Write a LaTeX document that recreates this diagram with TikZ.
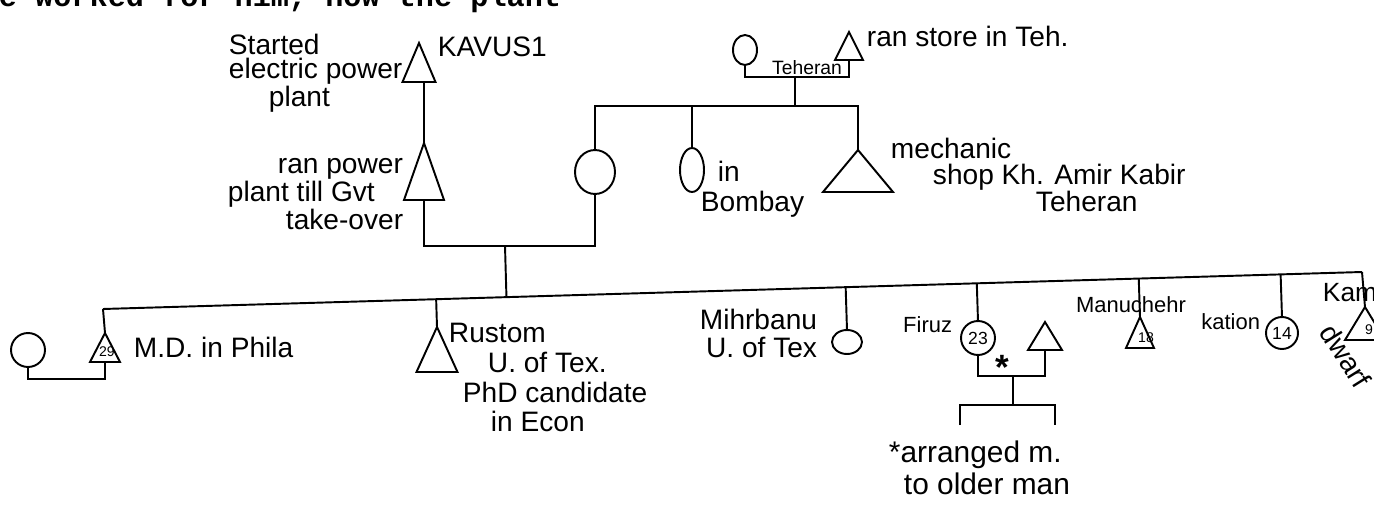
\documentclass[tikz,border=0pt]{standalone}
\usepackage{fontspec}
\setmainfont{Liberation Sans}
\newfontfamily\typed{Liberation Mono}
\usetikzlibrary{shapes.geometric,positioning,calc}

\begin{document}
\begin{tikzpicture}[x=0.02cm,y=-0.02cm,line width=1.1pt,
  man/.style={draw,isosceles triangle,isosceles triangle stretches,rotate=90,anchor=apex,inner sep=0pt,outer sep=0pt},
  woman/.style={draw,ellipse,inner sep=0pt,outer sep=0pt},
  hand/.style={font=\fontsize{16}{15}\selectfont,align=left,inner sep=0pt},
  handsm/.style={font=\fontsize{12.5}{14}\selectfont,inner sep=0pt},
  age/.style={font=\fontsize{8}{8}\selectfont,inner sep=0pt}]
  \useasboundingbox (0,0) rectangle (1374,510);
  \node[anchor=base west,inner sep=0pt,font=\typed\bfseries\fontsize{17.2}{18}\selectfont] (typed) at (-2,7) {e worked for him, now the plant};

  % grandparents
  \node[man,minimum height=0.78cm,minimum width=0.66cm] (kavusi) at (419,43) {};
  \node[hand,anchor=west] (kavusiname) at (437,47) {KAVUS1};
  \node[hand,anchor=north west,font=\fontsize{16}{14}\selectfont] (kavusinote) at (228,33) {Started\\electric power\\\hspace*{0.8cm}plant};
  \node[woman,minimum width=0.48cm,minimum height=0.6cm] (tehmother) at (745,50) {};
  \node[man,minimum height=0.56cm,minimum width=0.56cm] (tehfather) at (849,32) {};
  \node[inner sep=0pt,font=\fontsize{11}{11}\selectfont] (tehlabel) at (807,68) {Teheran};
  \node[hand,anchor=west] (tehnote) at (866,36) {ran store in Teh.};
  \coordinate (tehmarr) at (795,77);
  \coordinate (sibs) at (795,106);

  % parents and their siblings
  \node[man,minimum height=1.14cm,minimum width=0.8cm] (powerman) at (424,143) {};
  \node[hand,anchor=north west,font=\fontsize{16}{14}\selectfont] (powernote) at (227,157) {\hspace*{1cm}ran power\\plant till Gvt\\\hspace*{1.16cm}take-over};
  \node[woman,minimum width=0.8cm,minimum height=0.88cm] (wife) at (595,172) {};
  \node[woman,minimum width=0.48cm,minimum height=0.88cm] (bombay) at (692,170) {};
  \node[hand,anchor=north west,font=\fontsize{16}{17}\selectfont] (bombaynote) at (700,160) {\hspace*{0.34cm}in\\Bombay};
  \node[man,minimum height=0.84cm,minimum width=1.4cm] (mechanic) at (858,150) {};
  \node[hand,anchor=north west] (mechnote) at (890,137) {mechanic\\\hspace*{0.84cm}shop Kh. Amir Kabir\\\hspace*{2.9cm}Teheran};
  \coordinate (marr) at (505,246);

  % children
  \coordinate (kidsl) at (103,309);
  \coordinate (kidsr) at (1362,272);
  \node[woman,minimum width=0.68cm,minimum height=0.68cm] (mdwife) at (28,350) {};
  \node[man,minimum height=0.58cm,minimum width=0.6cm] (mdson) at (105,333) {};
  \node[age] (mdage) at (107,352) {29};
  \node[hand,anchor=west] (mdnote) at (133,347) {M.D. in Phila};
  \node[man,minimum height=0.9cm,minimum width=0.82cm] (rustom) at (437,327) {};
  \node[hand,anchor=north west,font=\fontsize{16}{17}\selectfont] (rustomnote) at (448,322) {Rustom\\\hspace*{0.78cm}U. of Tex.\\\hspace*{0.28cm}PhD candidate\\\hspace*{0.84cm}in Econ};
  \node[woman,minimum width=0.6cm,minimum height=0.48cm] (mihrbanu) at (847,342) {};
  \node[hand,anchor=north east,align=right,font=\fontsize{16}{16}\selectfont] (mihrnote) at (818,308) {Mihrbanu\\U. of Tex};
  \node[woman,minimum width=0.68cm,minimum height=0.68cm] (firuz) at (978,338) {};
  \node[age,font=\fontsize{10}{10}\selectfont] (firuzage) at (firuz) {23};
  \node[handsm,anchor=east] (firuzname) at (953,325) {Firuz};
  \node[man,minimum height=0.56cm,minimum width=0.68cm] (firhus) at (1045,322) {};
  \node[inner sep=0pt,font=\fontsize{20}{20}\bfseries] (star) at (1002,367) {*};
  \coordinate (firmarr) at (1013,376);
  \coordinate (firkids) at (1013,405);
  \coordinate (firkid1) at (960,425);
  \coordinate (firkid2) at (1055,425);
  \node[hand,anchor=north west,font=\fontsize{17}{18}\selectfont] (arrnote) at (888,440) {*arranged m.\\\hspace*{0.3cm}to older man};
  \node[man,minimum height=0.62cm,minimum width=0.56cm] (manu) at (1140,317) {};
  \node[age] (manuage) at (1146,338) {18};
  \node[handsm] (manuname) at (1131,305) {Manuchehr};
  \node[woman,minimum width=0.64cm,minimum height=0.64cm] (kat) at (1282,333) {};
  \node[age,font=\fontsize{10}{10}\selectfont] (katage) at (kat) {14};
  \node[handsm,anchor=east] (katnote) at (1261,322) {kation};
  \node[man,minimum height=0.66cm,minimum width=0.8cm] (kam) at (1365,307) {};
  \node[age] (kamage) at (1369,330) {9};
  \node[hand,anchor=west,font=\fontsize{15}{15}\selectfont] (kamname) at (1322,293) {Kam};
  \node[hand,anchor=west,rotate=-58] (dwarf) at (1327,326) {dwarf};

  \draw (powerman.apex |- kavusi.lower side) -- (powerman.apex);
  \draw (tehmother.south) |- (tehmarr) -| (tehfather.lower side);
  \draw (tehmarr) -- (sibs);
  \draw (wife.north) |- (sibs) -| (mechanic.apex);
  \draw (bombay.north) -- (bombay.north |- sibs);
  \draw (powerman.lower side) |- (marr) -| (wife.south);
  \draw (marr) -- ($(kidsl)!(marr)!(kidsr)$);
  \draw (kidsl) -- (kidsr);
  \draw (kidsl) -- (mdson.apex);
  \draw (mdwife.south) -- ++(0,12) -| (mdson.lower side);
  \draw ($(kidsl)!(rustom.apex)!(kidsr)$) -- (rustom.apex);
  \draw ($(kidsl)!(mihrbanu.north)!(kidsr)$) -- (mihrbanu.north);
  \draw ($(kidsl)!(firuz.north)!(kidsr)$) -- (firuz.north);
  \draw (firuz.south) |- (firmarr) -| (firhus.lower side);
  \draw (firmarr) -- (firkids);
  \draw (firkid1) |- (firkids) -| (firkid2);
  \draw ($(kidsl)!(manu.apex)!(kidsr)$) -- (manu.apex);
  \draw ($(kidsl)!(kat.north)!(kidsr)$) -- (kat.north);
  \draw (kidsr) -- (kam.apex);
\end{tikzpicture}
\end{document}
